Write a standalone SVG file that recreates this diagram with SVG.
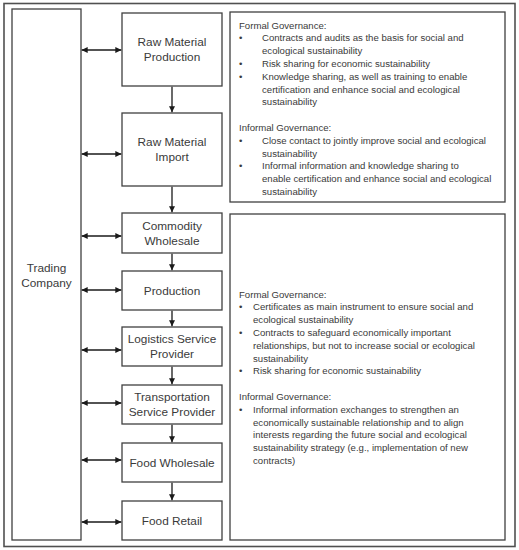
<svg xmlns="http://www.w3.org/2000/svg" width="519" height="550" viewBox="0 0 519 550">
<style>
.box{fill:#fff;stroke:#404040;stroke-width:1.3}
.lbl{font-family:"Liberation Sans",Arial,sans-serif;font-size:11.8px;fill:#3a3a3a;text-anchor:middle}
.txt{font-family:"Liberation Sans",Arial,sans-serif;font-size:9.6px;fill:#3a3a3a}
.con{stroke:#1a1a1a;stroke-width:1.3;fill:none}
</style>
<defs>
<marker id="ah" viewBox="0 0 10 10" refX="10" refY="5" markerWidth="6" markerHeight="6" orient="auto-start-reverse" markerUnits="userSpaceOnUse">
<path d="M0,0 L10,5 L0,10 Z" fill="#1a1a1a"/>
</marker>
</defs>
<rect x="0" y="0" width="519" height="550" fill="#fff"/>
<rect x="4" y="3.5" width="511" height="543" fill="none" stroke="#505050" stroke-width="1.6"/>
<g id="trading-company">
<rect class="box" x="12" y="9" width="69" height="531"/>
<text class="lbl" x="46.5" y="272">Trading</text>
<text class="lbl" x="46.5" y="287">Company</text>
</g>
<g id="raw-material-production">
<rect class="box" x="122" y="13" width="100" height="73"/>
<text class="lbl" x="172" y="46">Raw Material</text>
<text class="lbl" x="172" y="61">Production</text>
</g>
<g id="raw-material-import">
<rect class="box" x="122" y="113" width="100" height="73"/>
<text class="lbl" x="172" y="146">Raw Material</text>
<text class="lbl" x="172" y="161">Import</text>
</g>
<g id="commodity-wholesale">
<rect class="box" x="122" y="213" width="100" height="40"/>
<text class="lbl" x="172" y="229.5">Commodity</text>
<text class="lbl" x="172" y="244.5">Wholesale</text>
</g>
<g id="production">
<rect class="box" x="122" y="271" width="100" height="39"/>
<text class="lbl" x="172" y="294.5">Production</text>
</g>
<g id="logistics-service-provider">
<rect class="box" x="122" y="327" width="100" height="39"/>
<text class="lbl" x="172" y="343">Logistics Service</text>
<text class="lbl" x="172" y="358">Provider</text>
</g>
<g id="transportation-service-provider">
<rect class="box" x="122" y="385" width="100" height="39"/>
<text class="lbl" x="172" y="401">Transportation</text>
<text class="lbl" x="172" y="416">Service Provider</text>
</g>
<g id="food-wholesale">
<rect class="box" x="122" y="443" width="100" height="39"/>
<text class="lbl" x="172" y="466.5">Food Wholesale</text>
</g>
<g id="food-retail">
<rect class="box" x="122" y="501" width="100" height="39"/>
<text class="lbl" x="172" y="524.5">Food Retail</text>
</g>
<g id="governance-upstream">
<rect class="box" x="230" y="12" width="275" height="190"/>
<text class="txt" x="239" y="28.5">Formal Governance:</text>
<text class="txt" x="239" y="41.3">•</text><text class="txt" x="262" y="41.3">Contracts and audits as the basis for social and</text>
<text class="txt" x="262" y="54.1">ecological sustainability</text>
<text class="txt" x="239" y="66.9">•</text><text class="txt" x="262" y="66.9">Risk sharing for economic sustainability</text>
<text class="txt" x="239" y="79.7">•</text><text class="txt" x="262" y="79.7">Knowledge sharing, as well as training to enable</text>
<text class="txt" x="262" y="92.5">certification and enhance social and ecological</text>
<text class="txt" x="262" y="105.3">sustainability</text>
<text class="txt" x="239" y="130.9">Informal Governance:</text>
<text class="txt" x="239" y="143.7">•</text><text class="txt" x="262" y="143.7">Close contact to jointly improve social and ecological</text>
<text class="txt" x="262" y="156.5">sustainability</text>
<text class="txt" x="239" y="169.3">•</text><text class="txt" x="262" y="169.3">Informal information and knowledge sharing to</text>
<text class="txt" x="262" y="182.1">enable certification and enhance social and ecological</text>
<text class="txt" x="262" y="194.9">sustainability</text>
</g>
<g id="governance-downstream">
<rect class="box" x="230" y="214" width="275" height="326"/>
<text class="txt" x="239" y="297.5">Formal Governance:</text>
<text class="txt" x="239" y="310.3">•</text><text class="txt" x="253" y="310.3">Certificates as main instrument to ensure social and</text>
<text class="txt" x="253" y="323.1">ecological sustainability</text>
<text class="txt" x="239" y="335.9">•</text><text class="txt" x="253" y="335.9">Contracts to safeguard economically important</text>
<text class="txt" x="253" y="348.7">relationships, but not to increase social or ecological</text>
<text class="txt" x="253" y="361.5">sustainability</text>
<text class="txt" x="239" y="374.3">•</text><text class="txt" x="253" y="374.3">Risk sharing for economic sustainability</text>
<text class="txt" x="239" y="399.9">Informal Governance:</text>
<text class="txt" x="239" y="412.7">•</text><text class="txt" x="253" y="412.7">Informal information exchanges to strengthen an</text>
<text class="txt" x="253" y="425.5">economically sustainable relationship and to align</text>
<text class="txt" x="253" y="438.3">interests regarding the future social and ecological</text>
<text class="txt" x="253" y="451.1">sustainability strategy (e.g., implementation of new</text>
<text class="txt" x="253" y="463.9">contracts)</text>
</g>
<g id="connectors">
<line class="con" x1="81.7" y1="50" x2="121.3" y2="50" marker-start="url(#ah)" marker-end="url(#ah)"/>
<line class="con" x1="81.7" y1="154" x2="121.3" y2="154" marker-start="url(#ah)" marker-end="url(#ah)"/>
<line class="con" x1="81.7" y1="236" x2="121.3" y2="236" marker-start="url(#ah)" marker-end="url(#ah)"/>
<line class="con" x1="81.7" y1="290" x2="121.3" y2="290" marker-start="url(#ah)" marker-end="url(#ah)"/>
<line class="con" x1="81.7" y1="350" x2="121.3" y2="350" marker-start="url(#ah)" marker-end="url(#ah)"/>
<line class="con" x1="81.7" y1="403" x2="121.3" y2="403" marker-start="url(#ah)" marker-end="url(#ah)"/>
<line class="con" x1="81.7" y1="460" x2="121.3" y2="460" marker-start="url(#ah)" marker-end="url(#ah)"/>
<line class="con" x1="81.7" y1="522" x2="121.3" y2="522" marker-start="url(#ah)" marker-end="url(#ah)"/>
<line class="con" x1="172" y1="86.7" x2="172" y2="112.3" marker-end="url(#ah)"/>
<line class="con" x1="172" y1="186.7" x2="172" y2="212.3" marker-end="url(#ah)"/>
<line class="con" x1="172" y1="253.7" x2="172" y2="270.3" marker-end="url(#ah)"/>
<line class="con" x1="172" y1="310.7" x2="172" y2="326.3" marker-end="url(#ah)"/>
<line class="con" x1="172" y1="366.7" x2="172" y2="384.3" marker-end="url(#ah)"/>
<line class="con" x1="172" y1="424.7" x2="172" y2="442.3" marker-end="url(#ah)"/>
<line class="con" x1="172" y1="482.7" x2="172" y2="500.3" marker-end="url(#ah)"/>
</g>
</svg>
